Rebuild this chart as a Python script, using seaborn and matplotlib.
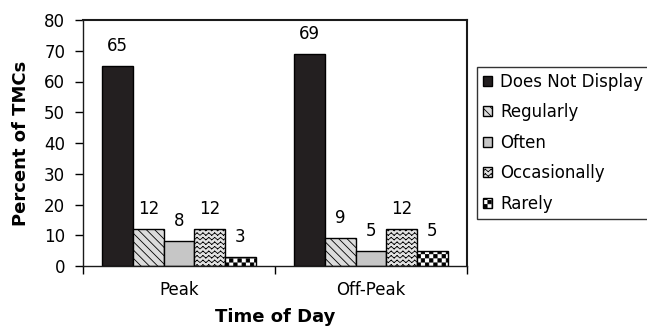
import warnings
import numpy as np
import pandas as pd
import matplotlib
matplotlib.use("Agg")
import matplotlib.pyplot as plt
import matplotlib.hatch as mhatch
from matplotlib.path import Path
import seaborn as sns

warnings.filterwarnings("ignore")

# ---- data ----
times = ["Peak", "Off-Peak"]
responses = ["Does Not Display", "Regularly", "Often", "Occasionally", "Rarely"]
peak_vals = [65, 12, 8, 12, 3]
offpeak_vals = [69, 9, 5, 12, 5]
y_ticks = [0, 10, 20, 30, 40, 50, 60, 70, 80]
x_label = "Time of Day"
y_label = "Percent of TMCs"

# ---- styles ----
face_colors = ["#231f20", "#dcdcdc", "#c6c6c6", "#e2e2e2", "#ffffff"]
hatches = [None, "\\\\\\\\", None, "~", "#"]


# ---- custom hatch patterns (wavy and checkerboard) ----
class WaveHatch(mhatch.HatchPatternBase):
    def __init__(self, hatch, density):
        n = hatch.count("~")
        self.rows = 22 * n
        self.segs = 34
        self.num_vertices = self.rows * self.segs * 2

    def set_vertices_and_codes(self, vertices, codes):
        amp = 0.012
        xs = np.linspace(0, 1, self.segs + 1)
        idx = 0
        for r in range(self.rows):
            y0 = (r + 0.5) / self.rows
            ys = y0 + amp * np.where(np.arange(self.segs + 1) % 2 == 0, -1, 1)
            for k in range(self.segs):
                vertices[idx] = (xs[k], ys[k])
                vertices[idx + 1] = (xs[k + 1], ys[k + 1])
                codes[idx] = Path.MOVETO
                codes[idx + 1] = Path.LINETO
                idx += 2


class CheckHatch(mhatch.HatchPatternBase):
    def __init__(self, hatch, density):
        n = hatch.count("#")
        self.cells = 24 * n
        self.num_vertices = (self.cells * self.cells // 2) * 5 if n else 0

    def set_vertices_and_codes(self, vertices, codes):
        c = 1.0 / self.cells
        s = 0.004
        idx = 0
        for i in range(self.cells):
            for j in range(self.cells):
                if (i + j) % 2:
                    continue
                x0, y0 = i * c + s, j * c + s
                x1, y1 = (i + 1) * c - s, (j + 1) * c - s
                vertices[idx:idx + 5] = [(x0, y0), (x1, y0), (x1, y1), (x0, y1), (x0, y0)]
                codes[idx:idx + 5] = [Path.MOVETO, Path.LINETO, Path.LINETO,
                                      Path.LINETO, Path.CLOSEPOLY]
                idx += 5


mhatch._hatch_types.extend([WaveHatch, CheckHatch])

plt.rcParams["font.family"] = ["DejaVu Sans"]
plt.rcParams["hatch.linewidth"] = 0.6

df = pd.DataFrame({
    "time": [t for t in times for _ in responses],
    "response": responses * len(times),
    "pct": peak_vals + offpeak_vals,
})

fig = plt.figure(figsize=(6.47, 3.31), dpi=100)
ax = fig.add_axes([83 / 647, 1 - 266 / 331, (467 - 83) / 647, (266 - 20) / 331])

sns.barplot(data=df, x="time", y="pct", hue="response", order=times,
            hue_order=responses, palette=face_colors, edgecolor="black",
            linewidth=1.0, width=0.8, saturation=1, legend=False, ax=ax)

for cont, fc, h in zip(ax.containers, face_colors, hatches):
    for bar in cont:
        bar.set_facecolor(fc)
        bar.set_edgecolor("black")
        if h:
            bar.set_hatch(h)
    ax.bar_label(cont, labels=[f"{v:g}" for v in cont.datavalues],
                 padding=8, fontsize=12)

ax.set_xlim(-0.5, 1.5)
ax.set_ylim(0, 80)
ax.set_yticks(y_ticks)
ax.set_xticks([0, 1])
ax.set_xticklabels(times)
ax.set_xticks([-0.5, 0.5, 1.5], minor=True)
ax.tick_params(axis="x", which="major", length=0, pad=11, labelsize=12)
ax.tick_params(axis="x", which="minor", length=5.8, width=1.0, direction="out")
ax.tick_params(axis="y", length=5.8, width=1.0, pad=7, labelsize=12)
for name, sp in ax.spines.items():
    sp.set_visible(True)
    sp.set_color("#1a1a1a")
    sp.set_linewidth(1.5 if name in ("top", "right") else 1.0)

ax.set_xlabel(x_label, fontsize=13, fontweight="bold", labelpad=6)
ax.set_ylabel(y_label, fontsize=13, fontweight="bold", labelpad=10)

handles = [cont.patches[0] for cont in ax.containers]
leg = fig.legend(handles, responses, loc="upper left",
                 bbox_to_anchor=(477 / 647, 1 - 67 / 331),
                 fontsize=12, frameon=True, fancybox=False, framealpha=1,
                 edgecolor="#333333", handlelength=0.55, handleheight=0.55,
                 handletextpad=0.5, labelspacing=0.75, borderpad=0.35,
                 borderaxespad=0)
leg.get_frame().set_linewidth(1.0)

fig.savefig("out.png", dpi=100)
